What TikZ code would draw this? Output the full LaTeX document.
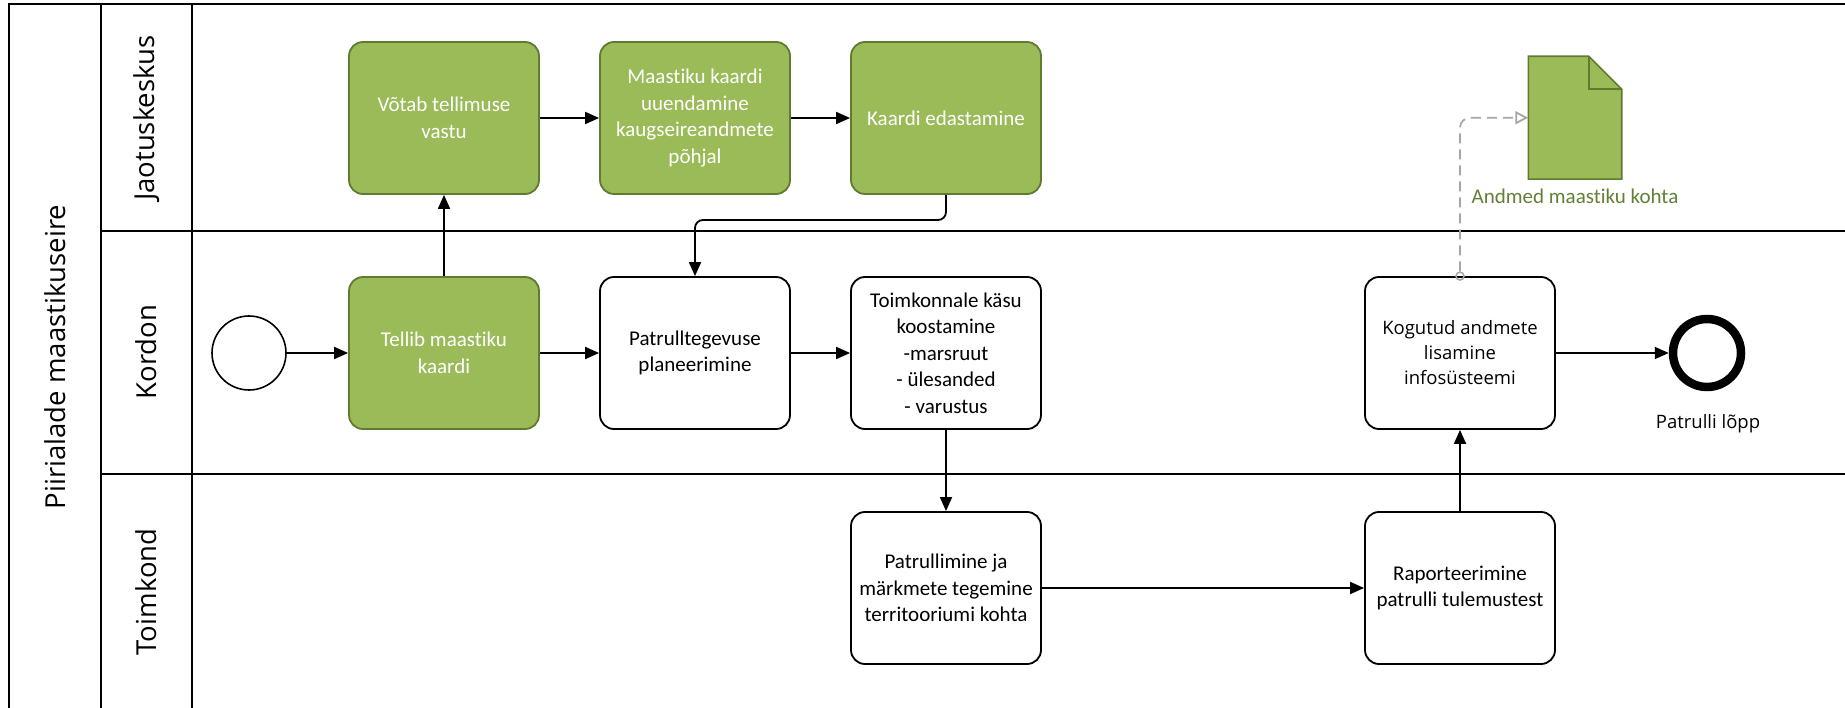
\documentclass[tikz,border=0pt]{standalone}
\usepackage{fontspec}
\setmainfont{Carlito}[Ligatures=NoCommon]
\newfontfamily\uifont{Open Sans}
\usetikzlibrary{arrows.meta}

\definecolor{taskgreen}{HTML}{9BBB59}
\definecolor{taskedge}{HTML}{5E7B30}
\definecolor{doctext}{HTML}{617F35}
\definecolor{assocgray}{HTML}{A6A6A6}

\tikzset{
  frame/.style={line width=2.2pt, black},
  lanelabel/.style={rotate=90, font=\uifont\fontsize{27.5}{33}\selectfont},
  task/.style={draw=black, fill=white, line width=1.8pt, rounded corners=14pt,
    minimum width=190pt, minimum height=152pt, align=center, inner sep=2pt,
    font=\fontsize{21}{26.5}\selectfont},
  greentask/.style={task, draw=taskedge, fill=taskgreen, text=white},
  flow/.style={line width=1.8pt, -{Triangle[length=14pt, width=12pt]}},
  assoc/.style={assocgray, line width=1.8pt, dash pattern=on 10pt off 6pt,
    rounded corners=10pt, -{Triangle[open, length=13pt, width=13pt]}},
  startevent/.style={circle, draw, line width=1.6pt, minimum size=74pt, inner sep=0pt},
  endevent/.style={circle, draw, line width=8.5pt, minimum size=68pt, inner sep=0pt},
}

\begin{document}
\begin{tikzpicture}[x=1pt, y=-1pt]
\useasboundingbox (0,0) rectangle (1845,708);

% pool and lanes
\draw[frame] (9,708) -- (9,4) -- (1845,4);
\draw[frame] (101,4) -- (101,708);
\draw[frame] (192,4) -- (192,708);
\draw[frame] (101,231) -- (1845,231);
\draw[frame] (101,474) -- (1845,474);

\node[lanelabel] (pool) at (55,357) {Piirialade maastikuseire};
\node[lanelabel] (lane1) at (146.5,118) {Jaotuskeskus};
\node[lanelabel] (lane2) at (146.5,352) {Kordon};
\node[lanelabel] (lane3) at (146.5,592) {Toimkond};

% Jaotuskeskus
\node[greentask] (votab) at (444,118) {Võtab tellimuse\\vastu};
\node[greentask] (uuend) at (695,118) {Maastiku kaardi\\uuendamine\\kaugseireandmete\\põhjal};
\node[greentask] (edast) at (946,118) {Kaardi edastamine};

% data object
\node[minimum width=93pt, minimum height=122.5pt, inner sep=0pt] (doc) at (1575,117.75) {};
\draw[draw=taskedge, fill=taskgreen, line width=1.6pt]
  (doc.north west) -- ([xshift=-33pt]doc.north east) -- ([yshift=-33pt]doc.north east)
  -- (doc.south east) -- (doc.south west) -- cycle;
\draw[draw=taskedge, line width=1.6pt]
  ([xshift=-33pt]doc.north east) |- ([yshift=-33pt]doc.north east);
\node[text=doctext, font=\fontsize{21}{26}\selectfont, anchor=north] (doclabel)
  at ([yshift=-6pt]doc.south) {Andmed maastiku kohta};

% Kordon
\node[startevent] (start) at (249,353) {};
\node[greentask] (tellib) at (444,353) {Tellib maastiku\\kaardi};
\node[task] (plan) at (695,353) {Patrulltegevuse\\planeerimine};
\node[task] (kask) at (946,353) {Toimkonnale käsu\\koostamine\\-marsruut\\- ülesanded\\- varustus};
\node[task, font=\uifont\fontsize{18.5}{25}\selectfont] (kog) at (1460,353)
  {Kogutud andmete\\lisamine\\infosüsteemi};
\node[endevent] (end) at (1707,353) {};
\node[font=\uifont\fontsize{18.5}{24}\selectfont] (endlabel) at (1708,424) {Patrulli lõpp};

% Toimkond
\node[task] (patr) at (946,588) {Patrullimine ja\\märkmete tegemine\\territooriumi kohta};
\node[task] (rap) at (1460,588) {Raporteerimine\\patrulli tulemustest};

% sequence flows
\draw[flow] (start) -- (tellib);
\draw[flow] (tellib) -- (votab);
\draw[flow] (votab) -- (uuend);
\draw[flow] (uuend) -- (edast);
\coordinate (turn) at (0,220);
\draw[flow, rounded corners=8pt] (edast.south) |- (plan.north |- turn) -- (plan.north);
\draw[flow] (tellib) -- (plan);
\draw[flow] (plan) -- (kask);
\draw[flow] (kask) -- (patr);
\draw[flow] (patr) -- (rap);
\draw[flow] (rap) -- (kog);
\draw[flow] (kog) -- (end);

% data association
\node[circle, draw=assocgray, line width=1.5pt, minimum size=8pt, inner sep=0pt] (src) at (kog.north) {};
\draw[assoc] (src.north) |- (doc.west);
\end{tikzpicture}
\end{document}
